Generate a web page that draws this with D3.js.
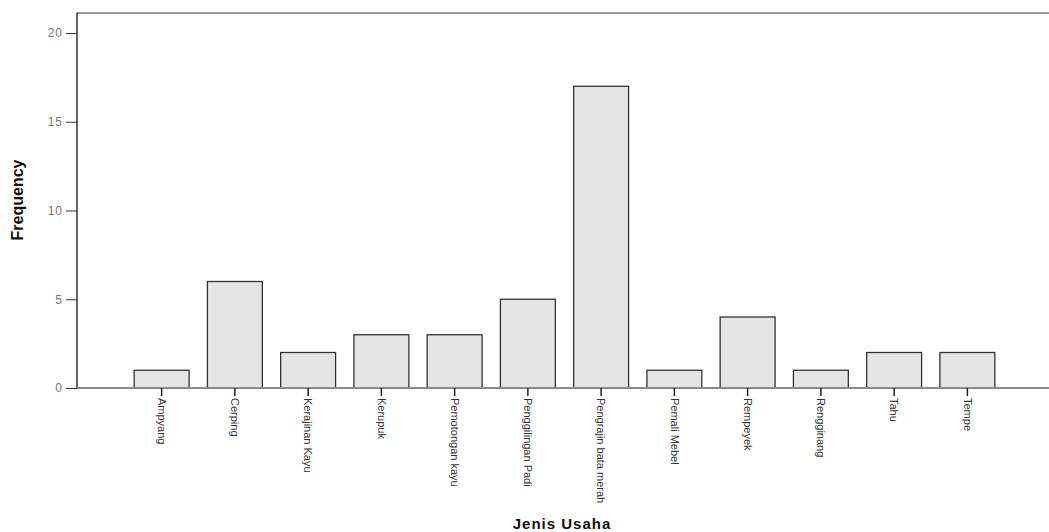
<!DOCTYPE html>
<html lang="en">
<head>
<meta charset="UTF-8">
<title>Jenis Usaha</title>
<script src="https://d3js.org/d3.v7.min.js"></script>
<style>
  body { margin: 0; background: #fff; }
  svg { display: block; }
</style>
</head>
<body>
<div id="chartID"></div>
<script>
  var categories = ["Ampyang", "Cerping", "Kerajinan Kayu", "Kerupuk", "Pemotongan kayu",
                    "Penggilingan Padi", "Pengrajin bata merah", "Pemali Mebel", "Rempeyek",
                    "Rengginang", "Tahu", "Tempe"];
  var frequency = [1, 6, 2, 3, 3, 5, 17, 1, 4, 1, 2, 2];
  var yTicks = [0, 5, 10, 15, 20];

  var width = 1049, height = 532;
  var plotLeft = 77, plotBase = 388, plotTop = 13;

  var svg = d3.select("#chartID").append("svg")
    .attr("width", width)
    .attr("height", height);

  var xScale = d3.scaleBand()
    .domain(categories)
    .range([125, 1004])
    .paddingInner(0.25)
    .paddingOuter(0.125);

  var yScale = d3.scaleLinear()
    .domain([0, 20])
    .range([plotBase, 33]);

  // frame top line
  svg.append("line")
    .attr("x1", plotLeft).attr("x2", width)
    .attr("y1", plotTop).attr("y2", plotTop)
    .attr("stroke", "#9a9a9a").attr("stroke-width", 2);

  // bars
  svg.selectAll(".bar")
    .data(categories)
    .enter()
    .append("rect")
    .attr("class", "bar")
    .attr("x", function(d) { return xScale(d); })
    .attr("width", xScale.bandwidth())
    .attr("y", function(d, i) { return yScale(frequency[i]); })
    .attr("height", function(d, i) { return plotBase - yScale(frequency[i]); })
    .attr("fill", "#e4e4e4")
    .attr("stroke", "#333")
    .attr("stroke-width", 1.3);

  // y axis
  var yAxis = d3.axisLeft(yScale).tickValues(yTicks).tickSize(11).tickPadding(3);
  var yg = svg.append("g")
    .attr("transform", "translate(" + plotLeft + ",0)")
    .call(yAxis);
  yg.select(".domain").attr("d", "M0," + plotTop + "V" + plotBase).attr("stroke", "#333").attr("stroke-width", 1.5);
  yg.selectAll(".tick line").attr("stroke", "#333");
  yg.selectAll(".tick text")
    .attr("fill", "#777")
    .style("font-family", "Liberation Sans, Arial, sans-serif")
    .style("font-size", "12px")
    .style("letter-spacing", "1px");

  // x axis
  var xAxis = d3.axisBottom(xScale).tickSize(8).tickSizeOuter(0);
  var xg = svg.append("g")
    .attr("transform", "translate(0," + plotBase + ")")
    .call(xAxis);
  xg.select(".domain").attr("d", "M" + plotLeft + ",0H" + width).attr("stroke", "#8a8a8a").attr("stroke-width", 2);
  xg.selectAll(".tick line").attr("stroke", "#222").attr("stroke-width", 1.5);
  xg.selectAll(".tick text")
    .attr("transform", "rotate(90)")
    .attr("x", 10)
    .attr("y", 0)
    .attr("dy", "0.35em")
    .attr("text-anchor", "start")
    .attr("fill", "#333")
    .style("font-family", "Liberation Sans Narrow, Arial Narrow, sans-serif")
    .style("font-size", "11px");

  // axis titles
  svg.append("text")
    .attr("x", 562).attr("y", 529)
    .attr("text-anchor", "middle")
    .style("font-family", "Liberation Sans, Arial, sans-serif")
    .style("font-weight", "bold")
    .style("font-size", "15px")
    .style("letter-spacing", "1px")
    .attr("fill", "#111")
    .text("Jenis Usaha");

  svg.append("text")
    .attr("transform", "translate(23,200) rotate(-90)")
    .attr("text-anchor", "middle")
    .style("font-family", "Liberation Sans Narrow, Arial Narrow, sans-serif")
    .style("font-weight", "bold")
    .style("font-size", "16px")
    .attr("fill", "#111")
    .text("Frequency");
</script>
</body>
</html>
